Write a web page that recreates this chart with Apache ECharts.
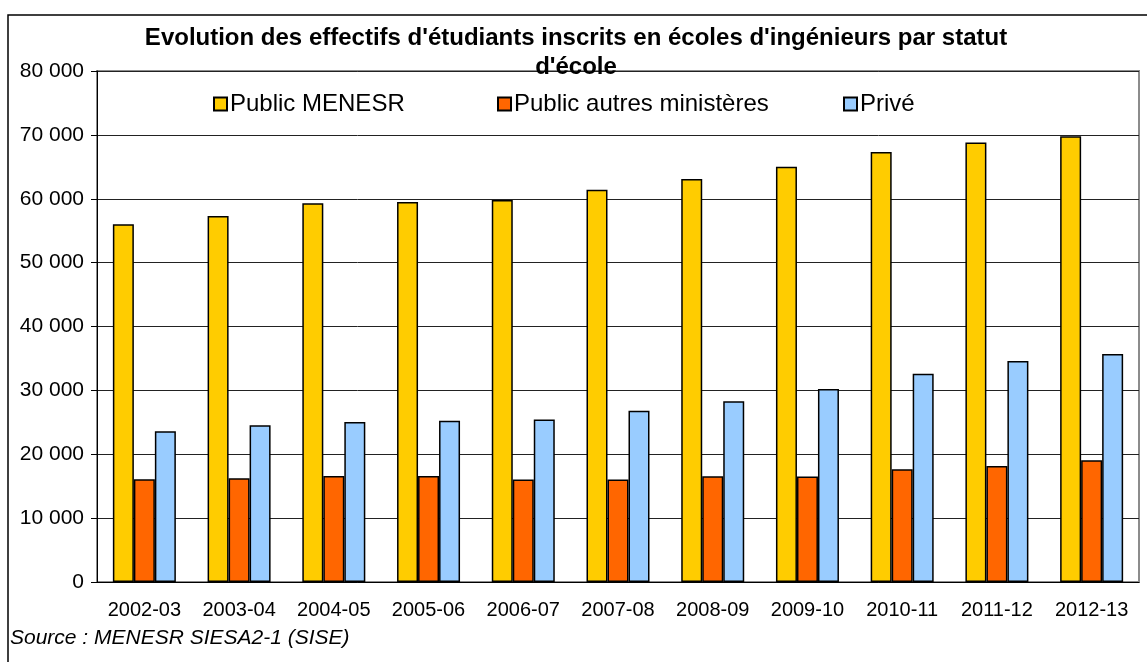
<!DOCTYPE html>
<html lang="fr">
<head>
    <meta charset="utf-8">
    <title>Effectifs écoles d'ingénieurs</title>
    <script src="https://cdn.jsdelivr.net/npm/echarts@6/dist/echarts.min.js"></script>
    <style>
        html, body { margin: 0; padding: 0; background: #fff; }
    </style>
</head>
<body>
<div id="main" style="width: 1147px;height:662px;"></div>
<script type="text/javascript">
    // années scolaires
    var annees = ['2002-03', '2003-04', '2004-05', '2005-06', '2006-07', '2007-08',
        '2008-09', '2009-10', '2010-11', '2011-12', '2012-13'];
    // effectifs
    var publicMenesr = [56000, 57300, 59300, 59500, 59800, 61400, 63100, 65000, 67300, 68800, 69800];
    var publicAutres = [16100, 16250, 16600, 16600, 16050, 16050, 16550, 16500, 17650, 18150, 19050];
    var prive = [23600, 24550, 25050, 25250, 25450, 26800, 28300, 30200, 32600, 34600, 35700];

    var police = 'Liberation Sans, Arial, sans-serif';

    function milliers(v) {
        return String(v).replace(/\B(?=(\d{3})+(?!\d))/g, ' ');
    }

    function serie(nom, data, couleur) {
        return {
            name: nom,
            type: 'bar',
            data: data,
            barWidth: 21,
            barGap: '0%',
            itemStyle: { color: couleur, borderColor: '#000', borderWidth: 1.5 }
        };
    }

    function legende(nom, x) {
        return {
            data: [nom],
            left: x,
            top: 87,
            icon: 'rect',
            itemWidth: 13,
            itemHeight: 13,
            itemGap: 0,
            selectedMode: false,
            textStyle: { fontFamily: police, fontSize: 24, color: '#000', padding: [0, 0, 0, -2] }
        };
    }

    var myChart = echarts.init(document.getElementById('main'));
    var option = {
        animation: false,
        backgroundColor: '#fff',
        title: {
            text: "Evolution des effectifs d'étudiants inscrits en écoles d'ingénieurs par statut\nd'école",
            left: 571,
            textAlign: 'center',
            top: 19,
            z: 10,
            textStyle: { fontFamily: police, fontSize: 24, fontWeight: 'bold', color: '#000', lineHeight: 29 }
        },
        legend: [
            legende('Public MENESR', 208),
            legende('Public autres ministères', 492),
            legende('Privé', 838)
        ],
        grid: {
            left: 97,
            right: 8,
            top: 71,
            bottom: 80,
            show: true,
            borderColor: '#8c8c8c',
            borderWidth: 2
        },
        graphic: [{
            type: 'rect',
            shape: { x: 8, y: 15, width: 1150, height: 660 },
            style: { fill: 'none', stroke: '#000', lineWidth: 1.5 },
            z: -1
        }, {
            type: 'text',
            left: 10,
            top: 628,
            style: {
                text: 'Source : MENESR SIESA2-1 (SISE)',
                font: 'italic 21px Liberation Sans, Arial, sans-serif',
                fill: '#000'
            }
        }],
        xAxis: {
            type: 'category',
            data: annees,
            axisLine: { lineStyle: { color: '#000', width: 1 } },
            axisTick: { length: 6, lineStyle: { color: '#000' } },
            axisLabel: { interval: 0, fontFamily: police, fontSize: 20, color: '#000', margin: 18 }
        },
        yAxis: {
            type: 'value',
            min: 0,
            max: 80000,
            interval: 10000,
            axisLine: { show: true, lineStyle: { color: '#000', width: 1 } },
            axisTick: { show: true, length: 6, lineStyle: { color: '#000' } },
            axisLabel: {
                fontFamily: police, fontSize: 21, color: '#000', margin: 13,
                formatter: milliers
            },
            splitLine: { lineStyle: { color: '#222', width: 1 } }
        },
        series: [
            serie('Public MENESR', publicMenesr, '#ffcc00'),
            serie('Public autres ministères', publicAutres, '#ff6600'),
            serie('Privé', prive, '#99ccff')
        ]
    };
    myChart.setOption(option);
</script>
</body>
</html>
